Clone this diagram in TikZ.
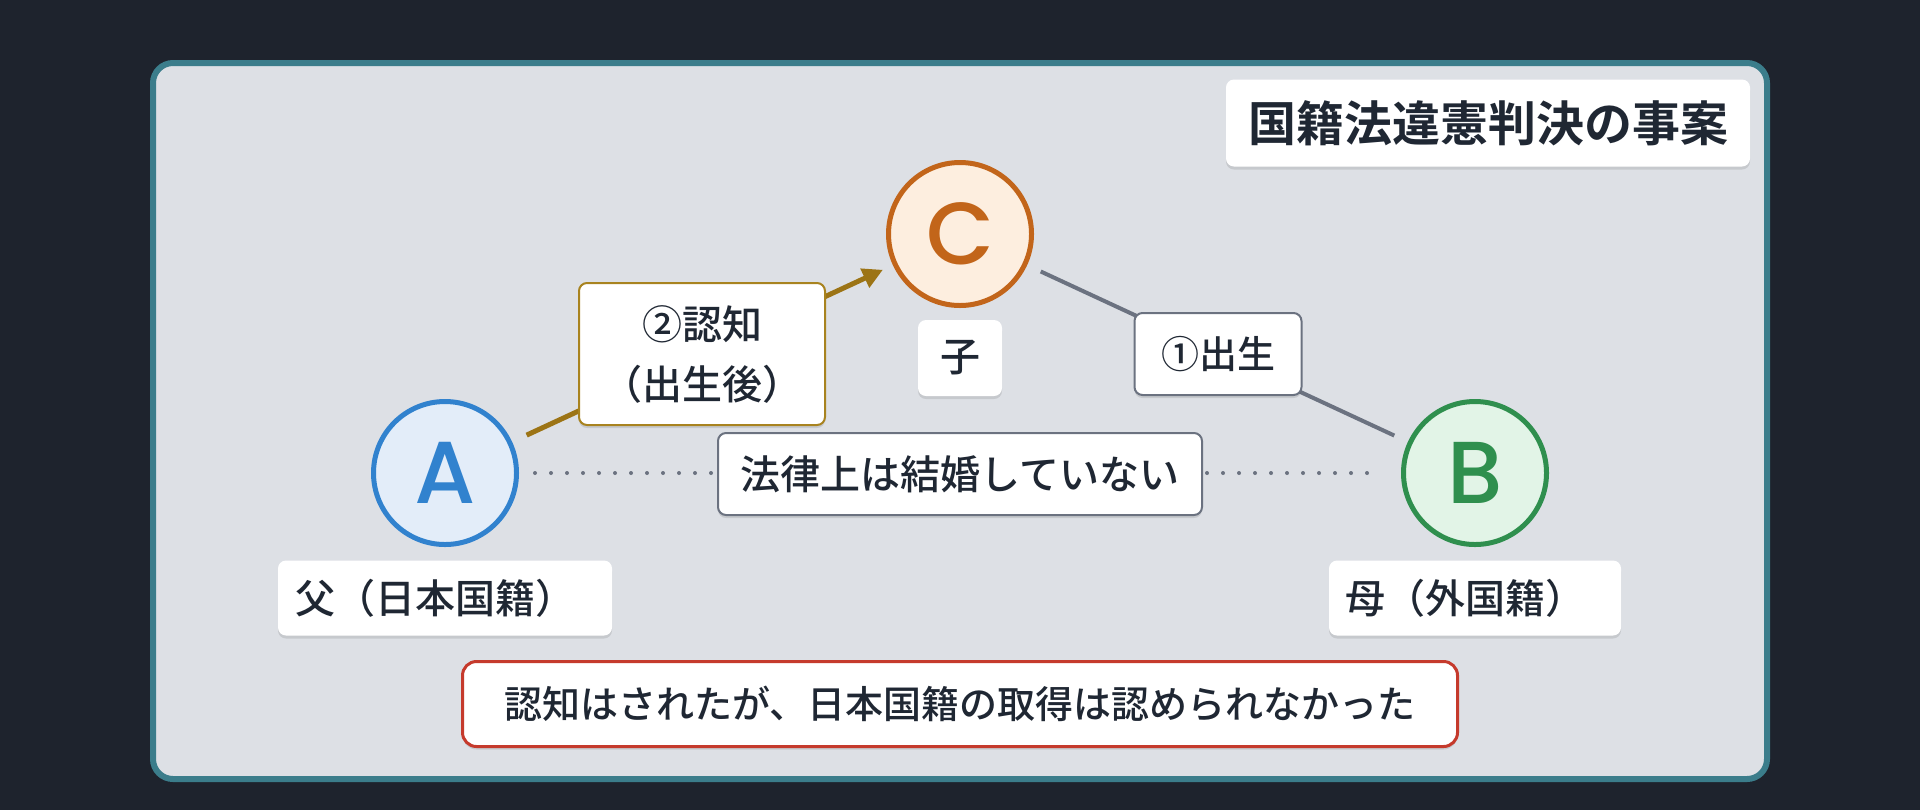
\documentclass[tikz,border=0pt]{standalone}
\usepackage{fontspec}
\setmainfont{Noto Sans CJK JP Medium}[BoldFont={Noto Sans CJK JP Bold}]
\newfontfamily\letterfont{Poppins Medium}
\usetikzlibrary{arrows.meta,shadows}
\definecolor{bgc}{HTML}{1E232D}
\definecolor{framefill}{HTML}{DDE0E5}
\definecolor{framec}{HTML}{3B7D8B}
\definecolor{txt}{HTML}{1F2733}
\definecolor{blueC}{HTML}{3182CE}
\definecolor{blueF}{HTML}{E3EDF9}
\definecolor{orangeC}{HTML}{C2651A}
\definecolor{orangeF}{HTML}{FDEEDF}
\definecolor{greenC}{HTML}{2F8F4E}
\definecolor{greenF}{HTML}{E2F4E7}
\definecolor{goldC}{HTML}{9C7415}
\definecolor{goldB}{HTML}{A8831F}
\definecolor{grayC}{HTML}{6B7280}
\definecolor{redC}{HTML}{C53A2C}
\begin{document}
\begin{tikzpicture}[x=0.5pt,y=-0.5pt,
  circ/.style={circle, minimum size=71.5pt, inner sep=0pt, line width=2.5pt,
    font=\fontsize{44pt}{44pt}\selectfont\letterfont},
  lbl/.style={fill=white, rounded corners=4pt, inner sep=0pt, text=txt, align=center,
    font=\fontsize{20pt}{30pt}\selectfont,
    drop shadow={shadow xshift=0pt, shadow yshift=-1.5pt, opacity=0.10, fill=black}},
  small/.style={font=\fontsize{19pt}{30pt}\selectfont},
  edgebox/.style={lbl, line width=1pt}
]
\fill[bgc] (0,0) rectangle (1920,810);
\useasboundingbox (0,0) rectangle (1920,810);
\draw[line width=3pt, draw=framec, fill=framefill, rounded corners=10pt] (153,63) rectangle (1767,779);

% circles
\node[circ, draw=blueC, fill=blueF, text=blueC] (A) at (445,473) {A};
\node[circ, draw=greenC, fill=greenF, text=greenC] (B) at (1475,473) {B};
\node[circ, draw=orangeC, fill=orangeF, text=orangeC] (C) at (960,234) {C};

% connectors
\draw[goldC, line width=2.5pt, shorten <=8pt, shorten >=5.5pt,
  -{Triangle[length=10pt,width=10pt]}] (A) -- (C);
\draw[grayC, line width=2pt, shorten <=7.5pt, shorten >=7.5pt] (C) -- (B);
\draw[grayC, line width=2pt, line cap=round, dash pattern=on 0pt off 8pt,
  shorten <=8pt, shorten >=13pt] (A) -- (B);

% labels
\node[lbl, minimum width=167pt, minimum height=37.5pt] (la) at (445,598) {父（日本国籍）\kern10pt};
\node[lbl, minimum width=146pt, minimum height=37.5pt] (lb) at (1475,598) {母（外国籍）\kern10pt};
\node[lbl, minimum width=42pt, minimum height=38pt] (lc) at (960,358) {子};
\node[edgebox, draw=goldB, minimum width=123pt, minimum height=71pt] (rec) at (702,354) {②認知\\（出生後）};
\node[edgebox, small, draw=grayC, minimum width=83.5pt, minimum height=41pt] (bir) at (1218,354) {①出生};
\node[edgebox, draw=grayC, minimum width=242pt, minimum height=41pt] (mar) at (960,474) {法律上は結婚していない};
\node[lbl, small, draw=redC, line width=1.5pt, rounded corners=7pt, minimum width=497.5pt, minimum height=42.5pt] (res) at (960,704) {認知はされたが、日本国籍の取得は認められなかった};
\node[lbl, minimum width=262pt, minimum height=43.5pt, drop shadow={opacity=0}, font=\fontsize{24pt}{28pt}\selectfont\bfseries] (title) at (1488,123) {国籍法違憲判決の事案};
\end{tikzpicture}
\end{document}
